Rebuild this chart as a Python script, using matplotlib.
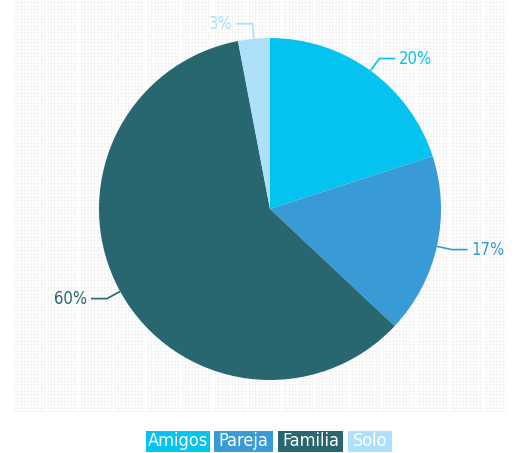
import numpy as np
import matplotlib
matplotlib.use("Agg")
import matplotlib.pyplot as plt
from matplotlib import font_manager as fm

categories = ["Amigos", "Pareja", "Familia", "Solo"]
values = [20, 17, 60, 3]
labels = ["20%", "17%", "60%", "3%"]
colors = ["#05c3f1", "#389bd6", "#286670", "#aee0fb"]

names = {f.name for f in fm.fontManager.ttflist}
FONT = "Liberation Sans Narrow" if "Liberation Sans Narrow" in names else "DejaVu Sans"

W, H = 518, 453
fig = plt.figure(figsize=(W / 100, H / 100), dpi=100)
ax = fig.add_axes([0, 0, 1, 1])
ax.set_axis_off()

# background fine grid
gx0, gx1, gy0, gy1 = 14, 505, H - 411, H
for x in np.arange(gx0, gx1, 3.35):
    ax.plot([x, x], [gy0, gy1], color="#f2f2f2", lw=0.5, zorder=0)
for y in np.arange(gy0, gy1, 3.35):
    ax.plot([gx0, gx1], [y, y], color="#f2f2f2", lw=0.5, zorder=0)
for x in np.arange(gx0 + 30.5, gx1, 33.6):
    ax.fill_between([x, x + 3], gy0, gy1, color="white", lw=0, zorder=0.5)

cx, cy, R = 270, H - 209, 171
wedges, _ = ax.pie(values, colors=colors, startangle=90, counterclock=False,
                   center=(cx, cy), radius=R,
                   wedgeprops=dict(linewidth=0, zorder=2))
for w in wedges:
    w.set_zorder(2)

for w, lab, col in zip(wedges, labels, colors):
    ang = np.deg2rad((w.theta1 + w.theta2) / 2)
    x0, y0 = cx + R * np.cos(ang), cy + R * np.sin(ang)
    x1, y1 = cx + (R + 15) * np.cos(ang), cy + (R + 15) * np.sin(ang)
    side = 1 if np.cos(ang) >= 0 else -1
    x2 = x1 + side * 16
    ax.plot([x0, x1, x2], [y0, y1, y1], color=col, lw=1.2, zorder=3,
            solid_capstyle="butt")
    ax.text(x2 + side * 4, y1, lab, color=col, fontsize=12, family=FONT,
            fontstretch="condensed",
            ha="left" if side > 0 else "right", va="center", zorder=3)

# legend boxes
box_x = [146, 214, 278, 348]
box_w = [64, 59, 65, 44]
for bx, bw, cat, col in zip(box_x, box_w, categories, colors):
    ax.add_patch(plt.Rectangle((bx, H - 452), bw, 21, color=col, lw=0, zorder=3))
    ax.text(bx + bw / 2, H - 441.5, cat, color="white", fontsize=13, family=FONT,
            fontstretch="condensed", ha="center", va="center", zorder=4)

ax.set_xlim(0, W)
ax.set_ylim(0, H)
ax.set_aspect("auto")
fig.savefig("out.png", dpi=100, facecolor="white")
